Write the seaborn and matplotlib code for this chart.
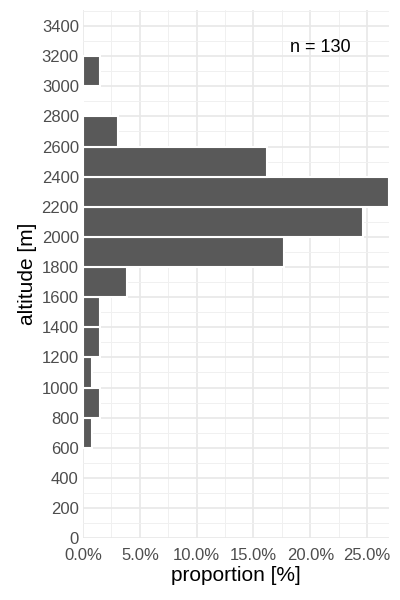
import numpy as np
import pandas as pd
import matplotlib
matplotlib.use("Agg")
import matplotlib.pyplot as plt
import seaborn as sns
from matplotlib.ticker import FuncFormatter, MultipleLocator

# bin lower edges (m) and counts
bin_lower = [600, 800, 1000, 1200, 1400, 1600, 1800, 2000, 2200, 2400, 2600, 2800, 3000]
counts = [1, 2, 1, 2, 2, 5, 23, 32, 35, 21, 4, 0, 2]
n_total = 130
bin_width = 200

df = pd.DataFrame({"altitude": np.array(bin_lower) + bin_width / 2,
                   "prop": np.array(counts) / n_total * 100})
edges = list(bin_lower) + [bin_lower[-1] + bin_width]

sns.set_theme(style="whitegrid")
plt.rcParams['font.family'] = ['Liberation Sans', 'DejaVu Sans']

fig = plt.figure(figsize=(4, 6), dpi=100)
ax = fig.add_axes([0.2075, 0.103, 0.765, 0.880])

sns.histplot(data=df, y="altitude", weights="prop", bins=edges, ax=ax,
             color="#595959", alpha=1, edgecolor="white", linewidth=1.5)

ax.set_xlim(0, df["prop"].max())
ax.set_ylim(0, 3505)
ax.yaxis.set_major_locator(MultipleLocator(200))
ax.yaxis.set_minor_locator(MultipleLocator(100))
ax.xaxis.set_major_locator(MultipleLocator(5))
ax.xaxis.set_minor_locator(MultipleLocator(2.5))
ax.xaxis.set_major_formatter(FuncFormatter(lambda v, p: f"{v:.1f}%"))

ax.set_facecolor("white")
for s in ax.spines.values():
    s.set_visible(False)
ax.grid(which="major", color="#E8E8E8", linewidth=1.2)
ax.grid(which="minor", color="#F0F0F0", linewidth=0.7)
ax.set_axisbelow(True)
ax.tick_params(axis="both", which="both", length=0, labelsize=12, labelcolor="#4D4D4D")
ax.tick_params(axis="y", pad=3)
ax.tick_params(axis="x", pad=7)

ax.set_xlabel("proportion [%]", fontsize=15, color="black", labelpad=2)
ax.set_ylabel("altitude [m]", fontsize=15, color="black", labelpad=3)

ax.text(20.9, 3260, f"n = {n_total}", fontsize=13, color="black", ha="center", va="center")

fig.savefig("out.png", dpi=100, facecolor="white")
